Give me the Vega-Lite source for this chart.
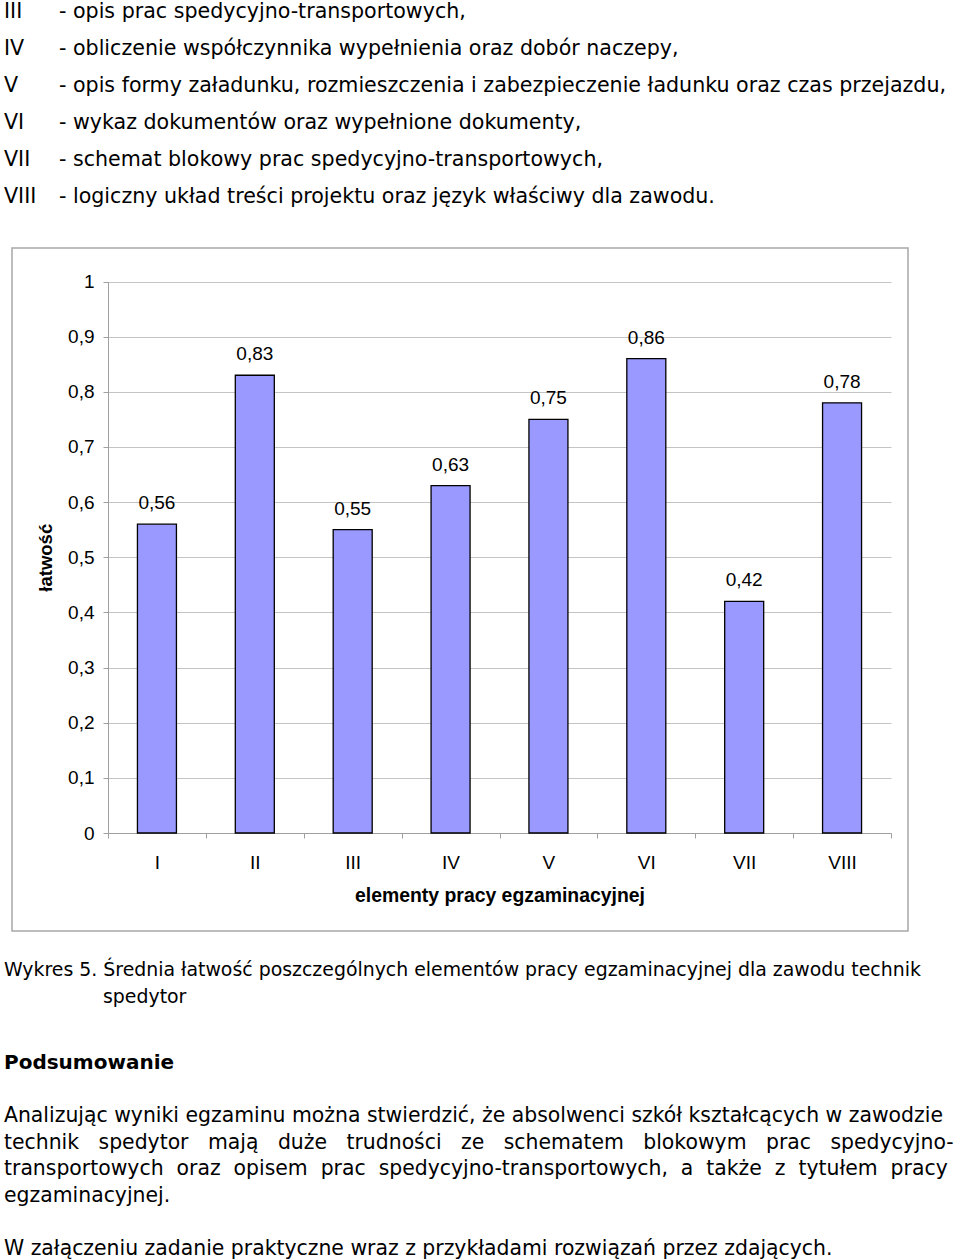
{
  "$schema": "https://vega.github.io/schema/vega-lite/v6.json",
  "background": "white",
  "padding": 0,
  "spacing": 0,
  "config": {
    "view": {"stroke": null},
    "font": "Liberation Sans",
    "locale": {"number": {"decimal": ",", "thousands": " ", "grouping": [3], "currency": ["", " zł"]}}
  },
  "vconcat": [
    {
      "width": 960,
      "height": 247,
      "data": {"values": [
        {"num": "III", "desc": "- opis prac spedycyjno-transportowych,"},
        {"num": "IV", "desc": "- obliczenie współczynnika wypełnienia oraz dobór naczepy,"},
        {"num": "V", "desc": "- opis formy załadunku, rozmieszczenia i zabezpieczenie ładunku oraz czas przejazdu,"},
        {"num": "VI", "desc": "- wykaz dokumentów oraz wypełnione dokumenty,"},
        {"num": "VII", "desc": "- schemat blokowy prac spedycyjno-transportowych,"},
        {"num": "VIII", "desc": "- logiczny układ treści projektu oraz język właściwy dla zawodu."}
      ]},
      "encoding": {
        "y": {"field": "num", "type": "nominal", "axis": null,
              "scale": {"type": "point", "domain": ["III", "IV", "V", "VI", "VII", "VIII"], "range": [12, 197], "padding": 0}}
      },
      "layer": [
        {
          "mark": {"type": "text", "align": "left", "baseline": "middle", "font": "DejaVu Sans", "fontSize": 20.6, "color": "#000"},
          "encoding": {
            "x": {"datum": "num", "type": "nominal", "axis": null,
                  "scale": {"type": "point", "domain": ["num", "desc"], "range": [4, 59], "padding": 0}},
            "text": {"field": "num"}
          }
        },
        {
          "mark": {"type": "text", "align": "left", "baseline": "middle", "font": "DejaVu Sans", "fontSize": 20.6, "color": "#000"},
          "encoding": {
            "x": {"datum": "desc", "type": "nominal", "axis": null},
            "text": {"field": "desc"}
          }
        }
      ]
    },
    {
      "spacing": 0,
      "bounds": "flush",
      "hconcat": [
        {
          "width": 12,
          "height": 683,
          "data": {"values": [{"blank": ""}]},
          "mark": {"type": "text"},
          "encoding": {"text": {"field": "blank"}}
        },
        {
          "width": 896,
          "height": 683,
          "view": {"stroke": "#a8a8a8", "strokeWidth": 1.5},
          "data": {"values": [
            {"el": "I", "v": 0.56},
            {"el": "II", "v": 0.83},
            {"el": "III", "v": 0.55},
            {"el": "IV", "v": 0.63},
            {"el": "V", "v": 0.75},
            {"el": "VI", "v": 0.86},
            {"el": "VII", "v": 0.42},
            {"el": "VIII", "v": 0.78}
          ]},
          "encoding": {
            "x": {"field": "el", "type": "nominal",
                  "scale": {"type": "band", "domain": ["I", "II", "III", "IV", "V", "VI", "VII", "VIII"], "range": [96, 879], "paddingInner": 0, "paddingOuter": 0},
                  "axis": {"orient": "bottom", "offset": -98, "tickBand": "extent", "tickSize": 5, "tickColor": "#a0a0a0",
                           "domainColor": "#a0a0a0", "labelAngle": 0, "labelPadding": 15, "labelFontSize": 19, "labelColor": "#000",
                           "title": "elementy pracy egzaminacyjnej", "titleFontSize": 19.4, "titleFontWeight": "bold", "titleColor": "#000", "titlePadding": 14}},
            "y": {"field": "v", "type": "quantitative",
                  "scale": {"domain": [0, 1], "range": [585, 33.5], "nice": false, "zero": true},
                  "axis": {"orient": "left", "offset": -96, "values": [0, 0.1, 0.2, 0.3, 0.4, 0.5, 0.6, 0.7, 0.8, 0.9, 1],
                           "format": ".1~f", "grid": true, "gridColor": "#c4c4c4", "tickSize": 5, "tickColor": "#a0a0a0",
                           "domainColor": "#a0a0a0", "labelPadding": 9, "labelFontSize": 19, "labelColor": "#000",
                           "title": "łatwość", "titleFontSize": 18.5, "titleFontWeight": "bold", "titleColor": "#000", "titlePadding": 12}}
          },
          "layer": [
            {"mark": {"type": "bar", "fill": "#9999ff", "stroke": "#000", "strokeWidth": 1.3, "size": 39}},
            {"mark": {"type": "text", "baseline": "middle", "dy": -21, "fontSize": 19, "color": "#000"},
             "encoding": {"text": {"field": "v", "type": "quantitative", "format": ".2f"}}}
          ]
        }
      ]
    },
    {
      "width": 960,
      "height": 330,
      "encoding": {
        "y": {"field": "k", "type": "nominal", "axis": null,
              "scale": {"type": "point", "padding": 0, "range": [38, 317],
                        "domain": ["cap1", "_1", "cap2", "_3", "_4", "_5", "_6", "head", "_8", "_9", "_10", "p1", "_12", "p2", "_14", "p3", "_16", "p4", "_18", "_19", "_20", "last"]}}
      },
      "layer": [
        {
          "data": {"values": [
            {"k": "p1", "t": "Analizując wyniki egzaminu można stwierdzić, że absolwenci szkół kształcących w zawodzie"},
            {"k": "p2", "t": "technik \u00a0\u00a0spedytor \u00a0\u00a0mają \u00a0\u00a0duże \u00a0\u00a0trudności \u00a0\u00a0ze \u00a0\u00a0schematem \u00a0\u00a0blokowym \u00a0\u00a0prac \u00a0\u00a0spedycyjno-"},
            {"k": "p3", "t": "transportowych \u00a0oraz \u00a0opisem \u00a0prac \u00a0spedycyjno-transportowych, \u00a0a \u00a0także \u00a0z \u00a0tytułem \u00a0pracy"},
            {"k": "p4", "t": "egzaminacyjnej."},
            {"k": "last", "t": "W załączeniu zadanie praktyczne wraz z przykładami rozwiązań przez zdających."}
          ]},
          "mark": {"type": "text", "align": "left", "baseline": "middle", "font": "DejaVu Sans", "fontSize": 20.4, "color": "#000"},
          "encoding": {
            "x": {"datum": "margin", "type": "nominal", "axis": null,
                  "scale": {"type": "point", "domain": ["margin", "indent"], "range": [4, 103], "padding": 0}},
            "text": {"field": "t"}
          }
        },
        {
          "data": {"values": [{"k": "cap1", "t": "Wykres 5. Średnia łatwość poszczególnych elementów pracy egzaminacyjnej dla zawodu technik"}]},
          "mark": {"type": "text", "align": "left", "baseline": "middle", "font": "DejaVu Sans", "fontSize": 18.9, "color": "#000"},
          "encoding": {
            "x": {"datum": "margin", "type": "nominal", "axis": null},
            "text": {"field": "t"}
          }
        },
        {
          "data": {"values": [{"k": "cap2", "t": "spedytor"}]},
          "mark": {"type": "text", "align": "left", "baseline": "middle", "font": "DejaVu Sans", "fontSize": 18.9, "color": "#000"},
          "encoding": {
            "x": {"datum": "indent", "type": "nominal", "axis": null},
            "text": {"field": "t"}
          }
        },
        {
          "data": {"values": [{"k": "head", "t": "Podsumowanie"}]},
          "mark": {"type": "text", "align": "left", "baseline": "middle", "font": "DejaVu Sans", "fontSize": 20, "fontWeight": "bold", "color": "#000"},
          "encoding": {
            "x": {"datum": "margin", "type": "nominal", "axis": null},
            "text": {"field": "t"}
          }
        }
      ]
    }
  ]
}
